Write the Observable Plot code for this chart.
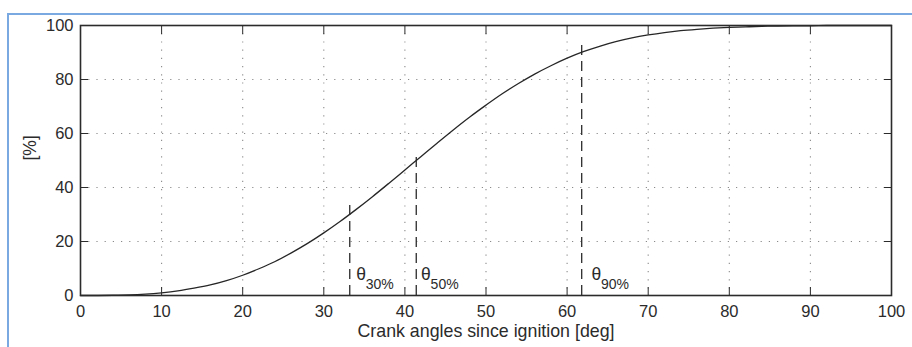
<!DOCTYPE html>
<html>
<head>
<meta charset="utf-8">
<script src="https://cdn.jsdelivr.net/npm/d3@7"></script>
<script src="https://cdn.jsdelivr.net/npm/@observablehq/plot@0.6"></script>
<style>
  html, body { margin: 0; padding: 0; background: #fff; }
  #wrap { position: relative; width: 912px; height: 347px; overflow: hidden; }
  #border { position: absolute; left: 7px; top: 13px; right: -10px; bottom: -10px;
            border-top: 2px solid #7aa9e2; border-left: 2px solid #7aa9e2; pointer-events: none; }
  svg { display: block; }
</style>
</head>
<body>
<div id="wrap"><div id="border"></div></div>
<script>
// Mass fraction burned curve
const angles = [0,2,4,6,8,10,12,14,16,18,20,22,24,26,28,30,32,34,36,38,40,42,44,46,48,50,
  52,54,56,58,60,62,64,66,68,70,72,74,76,78,80,82,84,86,88,90,92,94,96,98,100];
const percents = [0,0,0.1,0.2,0.5,1.0,1.7,2.7,3.9,5.5,7.5,9.9,12.6,15.8,19.3,23.2,27.4,31.9,36.6,41.5,46.5,
  51.5,56.5,61.4,66.1,70.5,74.7,78.5,82.0,85.1,87.9,90.3,92.3,94.0,95.4,96.5,97.4,98.1,98.6,99.0,
  99.3,99.5,99.7,99.8,99.9,99.9,100,100,100,100,100];

// Characteristic angles
const thetaNames = ["30%", "50%", "90%"];
const thetaAngles = [33.2, 41.4, 61.8];
const thetaTops = [35, 53, 93];
const thetaLabelX = [34, 42, 63];

const xTicks = [0,10,20,30,40,50,60,70,80,90,100];
const yTicks = [0,20,40,60,80,100];
const xLabel = "Crank angles since ignition [deg]";
const yLabel = "[%]";

const curve = angles.map((a, i) => ({a, p: percents[i]}));
const thetas = thetaNames.map((n, i) => ({n, a: thetaAngles[i], top: thetaTops[i], lx: thetaLabelX[i]}));
const innerX = xTicks.slice(1, -1);
const innerY = yTicks.slice(1, -1);

const font = "Liberation Sans, Arial, Helvetica, sans-serif";
const dark = "#2b2b2b";

const chart = Plot.plot({
  width: 912,
  height: 347,
  marginLeft: 80,
  marginRight: 21,
  marginTop: 25,
  marginBottom: 52,
  style: {fontFamily: font, fontSize: "16px", color: dark, background: "transparent"},
  x: {domain: [0, 100]},
  y: {domain: [0, 100]},
  marks: [
    // dotted grid
    Plot.ruleX(innerX, {x: d => d, stroke: "#8a8a8a", strokeWidth: 1.1, strokeDasharray: "1.2,7"}),
    Plot.ruleY(innerY, {y: d => d, stroke: "#8a8a8a", strokeWidth: 1.1, strokeDasharray: "1.2,7"}),
    // dashed markers
    Plot.ruleX(thetas, {x: "a", y1: 0, y2: "top", stroke: dark, strokeWidth: 1.3, strokeDasharray: "10,6"}),
    // curve
    Plot.line(curve, {x: "a", y: "p", stroke: "#262626", strokeWidth: 1.3, curve: "catmull-rom"}),
    // labels θ with subscript
    Plot.text(thetas, {x: "lx", y: 0, text: () => "θ", textAnchor: "start", lineAnchor: "middle",
      dy: -21, fontSize: 17.5, fill: dark}),
    Plot.text(thetas, {x: "lx", y: 0, text: "n", textAnchor: "start", lineAnchor: "middle",
      dx: 9.5, dy: -10.5, fontSize: 14, fill: dark}),
    // axes with inward ticks on all sides
    Plot.axisX(xTicks, {anchor: "bottom", tickSize: -8, tickPadding: 18, label: null, fontSize: 16.5, stroke: dark, fill: dark}),
    Plot.axisX(xTicks, {anchor: "top", tickSize: -8, tickFormat: () => "", label: null, stroke: dark}),
    Plot.axisY(yTicks, {anchor: "left", tickSize: -8, tickPadding: 15, label: null, fontSize: 16.5, stroke: dark, fill: dark}),
    Plot.axisY(yTicks, {anchor: "right", tickSize: -8, tickFormat: () => "", label: null, stroke: dark}),
    Plot.frame({stroke: dark, strokeWidth: 1.6}),
    // axis titles
    Plot.text([xLabel], {frameAnchor: "bottom", text: d => d, dy: 36, lineAnchor: "middle", fontSize: 17.8, fill: dark}),
    Plot.text([yLabel], {frameAnchor: "left", text: d => d, dx: -50, rotate: -90, lineAnchor: "middle", fontSize: 17.5, fill: dark})
  ]
});
document.getElementById("wrap").prepend(chart);
</script>
</body>
</html>
